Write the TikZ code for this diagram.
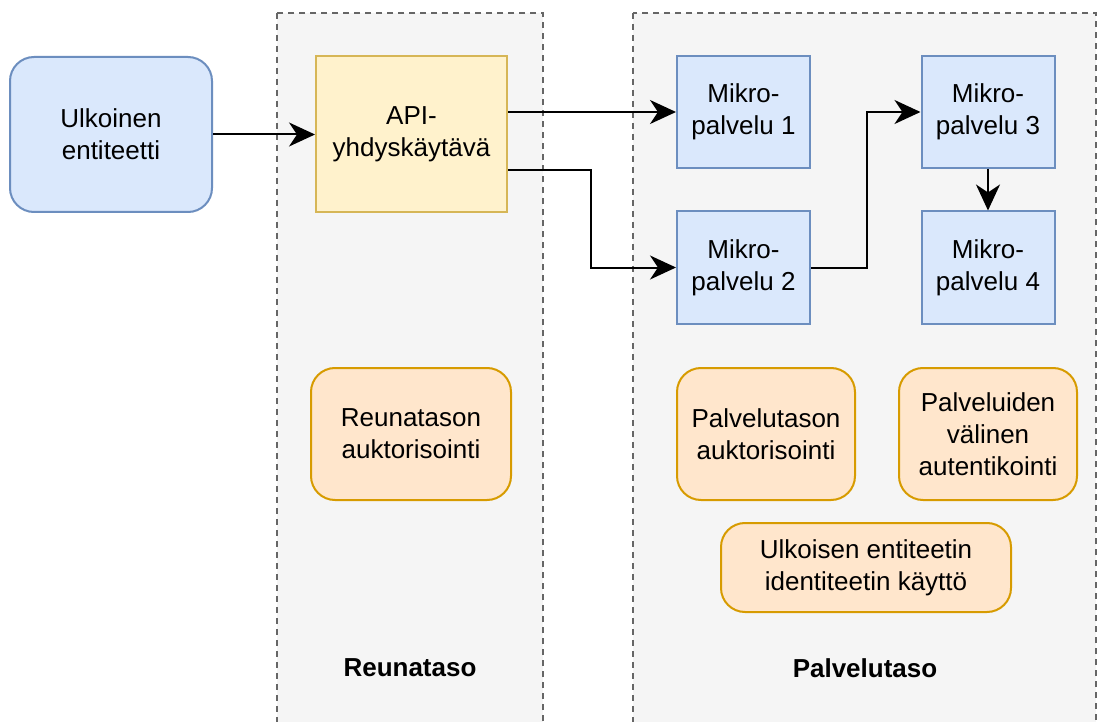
\documentclass[tikz,border=0pt]{standalone}
\usepackage{fontspec}
\setmainfont{Liberation Sans}
\usetikzlibrary{arrows.meta}
\definecolor{bluefill}{HTML}{DAE8FC}
\definecolor{bluedraw}{HTML}{6C8EBF}
\definecolor{yelfill}{HTML}{FFF2CC}
\definecolor{yeldraw}{HTML}{D6B656}
\definecolor{orfill}{HTML}{FFE6CC}
\definecolor{ordraw}{HTML}{D79B00}
\definecolor{tasofill}{HTML}{F5F5F5}
\definecolor{tasodraw}{HTML}{666666}
\tikzset{
  every node/.style={font=\fontsize{13pt}{16pt}\selectfont, align=center, inner sep=2pt},
  taso/.style={draw=tasodraw, fill=tasofill, line width=0.6pt, dash pattern=on 3pt off 2.5pt},
  mikro/.style={draw=bluedraw, fill=bluefill, line width=1pt, minimum width=66.5pt, minimum height=56pt},
  suoja/.style={draw=ordraw, fill=orfill, line width=1pt, rounded corners=12pt, minimum height=66pt},
  arr/.style={-{Stealth[length=13pt, width=12pt, inset=4pt]}, line width=1pt},
}
\begin{document}
\begin{tikzpicture}[x = .5pt, y = -.5pt]
  \useasboundingbox[fill=white] (0,0) rectangle (1099,722);
  % tasot
  \draw[taso] (277,13) rectangle (543,740);
  \draw[taso] (633,13) rectangle (1096,740);
  \node[font=\fontsize{13pt}{16pt}\selectfont\bfseries] (reuna) at (410,668) {Reunataso};
  \node[font=\fontsize{13pt}{16pt}\selectfont\bfseries] (palvelu) at (865,668) {Palvelutaso};
  % solmut
  \node[draw=bluedraw, fill=bluefill, line width=1pt, rounded corners=12pt,
        minimum width=101pt, minimum height=77.5pt] (ulk) at (111,134.5) {Ulkoinen\\entiteetti};
  \node[draw=yeldraw, fill=yelfill, line width=1pt,
        minimum width=95.5pt, minimum height=78pt] (api) at (411.5,134) {API-\\yhdyskäytävä};
  \node[mikro] (mp1) at (743.5,112) {Mikro-\\palvelu 1};
  \node[mikro] (mp2) at (743.5,267.5) {Mikro-\\palvelu 2};
  \node[mikro] (mp3) at (988,112) {Mikro-\\palvelu 3};
  \node[mikro] (mp4) at (988,267.5) {Mikro-\\palvelu 4};
  \node[suoja, minimum width=100pt] (rauk) at (411,434) {Reunatason\\auktorisointi};
  \node[suoja, minimum width=89pt] (pauk) at (766,434) {Palvelutason\\auktorisointi};
  \node[suoja, minimum width=89pt] (pval) at (988,434) {Palveluiden\\välinen\\autentikointi};
  \node[suoja, minimum width=145pt, minimum height=44.5pt] (uid) at (866,567.5) {Ulkoisen entiteetin\\identiteetin käyttö};
  % nuolet
  \draw[arr] (ulk.east) -- (ulk.east -| api.west);
  \draw[arr] (api.east |- mp1.west) -- (mp1.west);
  \draw[arr] ([yshift=-18pt]api.east) -- ++(41.5pt,0) |- (mp2.west);
  \draw[arr] (mp2.east) -- ++(28pt,0) |- (mp3.west);
  \draw[arr] (mp3.south) -- (mp4.north);
\end{tikzpicture}
\end{document}
